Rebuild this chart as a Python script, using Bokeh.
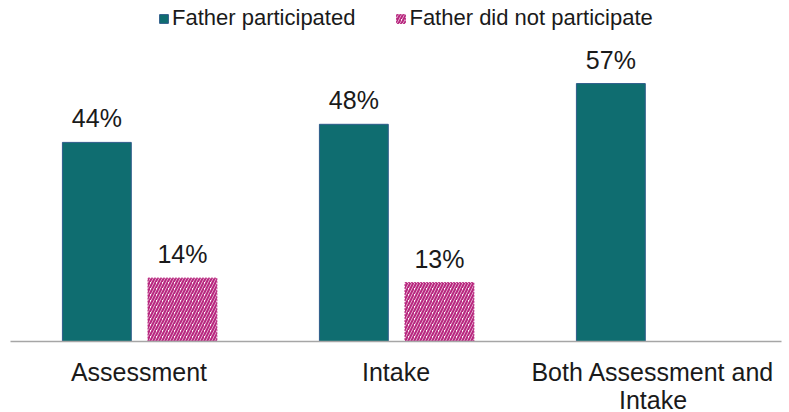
from bokeh.plotting import figure
from bokeh.models import ColumnDataSource, FactorRange, Legend, LegendItem, Range1d
from bokeh.core.properties import value
from bokeh.transform import dodge
from bokeh.embed import file_html
from bokeh.resources import INLINE

categories = ["Assessment", "Intake", "Both Assessment and\nIntake"]
father_participated = [44, 48, 57]
father_not_categories = ["Assessment", "Intake"]
father_not_participated = [14, 13]

teal_labels = [f"{v}%" for v in father_participated]
pink_labels = [f"{v}%" for v in father_not_participated]

src_a = ColumnDataSource(dict(cat=categories, val=father_participated, lab=teal_labels))
src_b = ColumnDataSource(dict(cat=father_not_categories, val=father_not_participated, lab=pink_labels))

TEAL = "#0F6D70"
PINK = "#B8287F"
FONT = "Liberation Sans"

p = figure(x_range=FactorRange(*categories, range_padding=0), y_range=Range1d(0, 75.36),
           frame_width=771, frame_height=341, output_backend="svg", toolbar_location=None,
           min_border_left=10, min_border_right=2, min_border_top=0, min_border_bottom=0)
p.x_range.factor_padding = 0

r1 = p.vbar(x=dodge("cat", -0.164, range=p.x_range), top="val", width=0.268, source=src_a,
            fill_color=TEAL, line_color="#2E5C8A", line_width=1)
r2 = p.vbar(x=dodge("cat", 0.169, range=p.x_range), top="val", width=0.268, source=src_b,
            fill_color="white", line_color=PINK, line_width=1, line_dash="2 1",
            hatch_pattern="right_diagonal_line", hatch_color=PINK, hatch_scale=6, hatch_weight=2.2)

p.text(x=dodge("cat", -0.164, range=p.x_range), y="val", text="lab", source=src_a,
       text_align="center", text_baseline="alphabetic", y_offset=-24,
       text_font=value(FONT), text_font_size="25px", text_color="#1a1a1a")
p.text(x=dodge("cat", 0.169, range=p.x_range), y="val", text="lab", source=src_b,
       text_align="center", text_baseline="alphabetic", y_offset=-24,
       text_font=value(FONT), text_font_size="25px", text_color="#1a1a1a")

p.yaxis.visible = False
p.grid.visible = False
p.outline_line_color = None
xa = p.xaxis[0]
xa.axis_line_color = "#a6a6a6"
xa.axis_line_width = 1.5
xa.major_tick_line_color = None
xa.minor_tick_line_color = None
xa.major_tick_out = 0
xa.major_tick_in = 0
xa.major_label_standoff = 16
xa.major_label_text_font = FONT
xa.major_label_text_font_size = "25px"
xa.major_label_text_color = "#1a1a1a"
xa.major_label_text_line_height = 1.0
xa.major_label_orientation = "horizontal"

legend = Legend(items=[LegendItem(label="Father participated", renderers=[r1]),
                       LegendItem(label="Father did not participate", renderers=[r2])],
                orientation="horizontal", location=(148, 310),
                glyph_width=11, glyph_height=11, label_standoff=3, spacing=40,
                padding=0, margin=0, border_line_color=None, background_fill_alpha=0,
                label_text_font=FONT, label_text_font_size="22px", label_text_color="#1a1a1a")
p.add_layout(legend)

open("out.html", "w").write(file_html(p, INLINE))
